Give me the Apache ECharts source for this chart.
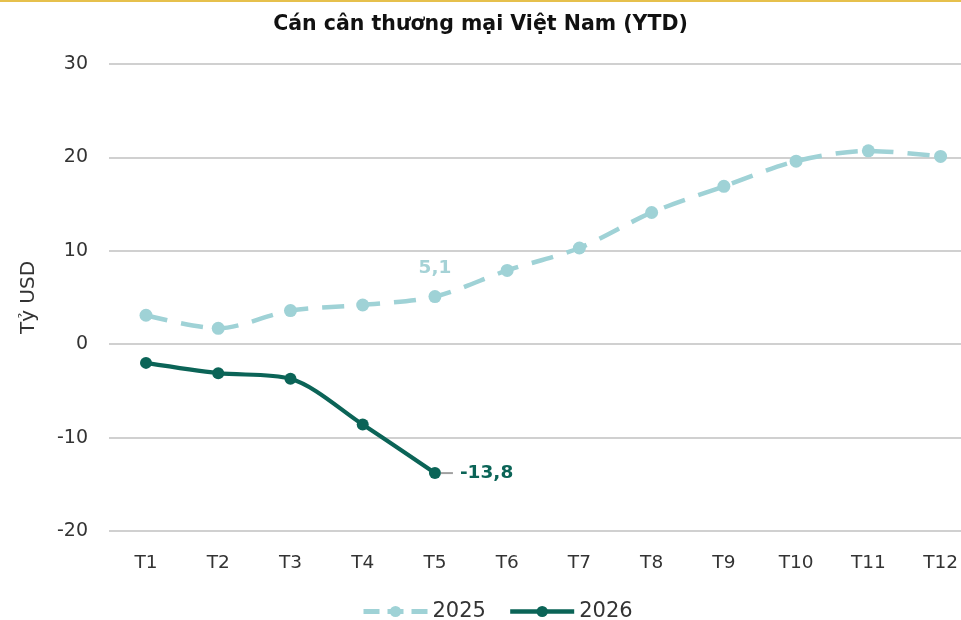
<!DOCTYPE html>
<html><head><meta charset="utf-8">
<script src="https://cdn.jsdelivr.net/npm/echarts@6/dist/echarts.min.js"></script>
<style>html,body{margin:0;padding:0;background:#fff}#c{width:961px;height:620px}</style>
</head><body><div id="c"></div>
<script>
const categories = ['T1','T2','T3','T4','T5','T6','T7','T8','T9','T10','T11','T12'];
const values2025 = [3.1, 1.7, 3.6, 4.2, 5.1, 7.9, 10.3, 14.1, 16.9, 19.6, 20.7, 20.1];
const values2026 = [-2.0, -3.1, -3.7, -8.6, -13.8];
const yTicks = [-20, -10, 0, 10, 20, 30];
const labelIndex2025 = 4;
const labelIndex2026 = 4;

const FONT = '"DejaVu Sans", sans-serif';
const c2025 = '#9fd2d6';
const c2026 = '#0b6457';
const fmt = v => String(v).replace('.', ',');

const d2025 = values2025.map((v, i) => i === labelIndex2025 ? {
  value: v,
  label: {show: true, position: 'top', distance: 12, formatter: p => fmt(p.value),
          color: '#a5d2d6', fontSize: 18.5, fontWeight: 'bold', fontFamily: FONT}
} : v);
const d2026 = values2026.map((v, i) => i === labelIndex2026 ? {
  value: v,
  label: {show: true, position: 'right', distance: 0, formatter: p => '{l|}{s|}{v|' + fmt(p.value) + '}',
          rich: {
            l: {width: 12, height: 2, backgroundColor: '#a0a0a0'},
            s: {width: 7},
            v: {color: c2026, fontSize: 18.5, fontWeight: 'bold', fontFamily: FONT}
          }}
} : v);

const yMin = yTicks[0], yMax = yTicks[yTicks.length - 1];
const chart = echarts.init(document.getElementById('c'), null, {renderer: 'canvas'});
chart.setOption({
  animation: false,
  backgroundColor: '#fff',
  title: {text: 'Cán cân thương mại Việt Nam (YTD)', left: 'center', top: 9,
    textStyle: {fontFamily: FONT, fontSize: 20.5, fontWeight: 'bold', color: '#111'}},
  graphic: [{type: 'rect', left: 0, top: 0, shape: {width: 961, height: 2}, style: {fill: '#e6c04c'}}],
  legend: {top: 596, left: 356, itemGap: 22, itemWidth: 64, itemHeight: 14,
    textStyle: {fontFamily: FONT, fontSize: 21, color: '#333'},
    data: [
      {name: '2025', lineStyle: {width: 5, type: [16, 8]}},
      {name: '2026', lineStyle: {width: 4.5}}
    ]},
  grid: [
    {left: 146, right: 19, top: 64, bottom: 89},
    {left: 109, right: 0, top: 64, bottom: 89}
  ],
  xAxis: [
    {type: 'category', data: categories, boundaryGap: false, gridIndex: 0,
      axisLine: {show: false}, axisTick: {show: false}, splitLine: {show: false},
      axisLabel: {fontFamily: FONT, fontSize: 18.5, color: '#333', margin: 23}},
    {type: 'category', data: categories, gridIndex: 1, show: false}
  ],
  yAxis: [
    {type: 'value', gridIndex: 0, min: yMin, max: yMax, interval: 10, show: false, splitLine: {show: false}},
    {type: 'value', gridIndex: 1, min: yMin, max: yMax, interval: 10,
      name: 'Tỷ USD', nameLocation: 'middle', nameGap: 70,
      nameTextStyle: {fontFamily: FONT, fontSize: 20, color: '#333'},
      axisLine: {show: false}, axisTick: {show: false},
      axisLabel: {fontFamily: FONT, fontSize: 19, color: '#333', margin: 21},
      splitLine: {lineStyle: {color: '#d0d0d0', width: 2}}}
  ],
  series: [
    {name: '2025', type: 'line', data: d2025, smooth: 0.3, xAxisIndex: 0, yAxisIndex: 0,
      symbol: 'circle', symbolSize: 13, z: 3,
      itemStyle: {color: c2025},
      lineStyle: {color: c2025, width: 4.5, type: [22, 14]}},
    {name: '2026', type: 'line', data: d2026, smooth: 0.3, xAxisIndex: 0, yAxisIndex: 0,
      symbol: 'circle', symbolSize: 12, z: 4,
      itemStyle: {color: c2026},
      lineStyle: {color: c2026, width: 4.2}}
  ]
});
</script></body></html>
